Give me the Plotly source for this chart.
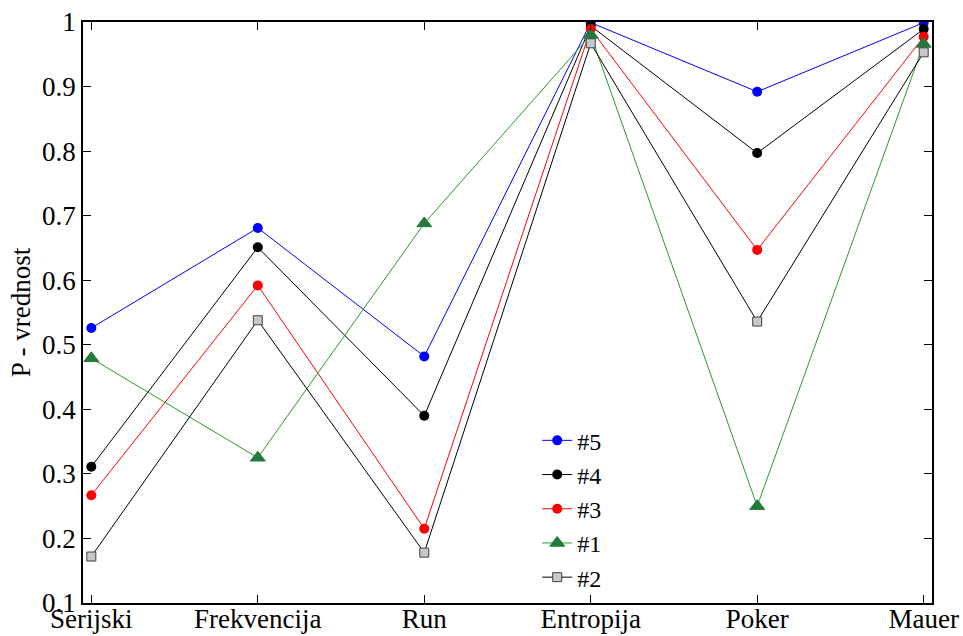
import plotly.graph_objects as go

categories = ["Serijski", "Frekvencija", "Run", "Entropija", "Poker", "Mauer"]
x_pos = [1, 2, 3, 4, 5, 6]

p_5 = [0.526, 0.681, 0.482, 0.999, 0.892, 0.999]
p_4 = [0.311, 0.651, 0.390, 0.994, 0.797, 0.989]
p_3 = [0.267, 0.592, 0.215, 0.989, 0.647, 0.977]
p_1 = [0.479, 0.325, 0.688, 0.980, 0.250, 0.966]
p_2 = [0.172, 0.538, 0.178, 0.967, 0.536, 0.953]

y_ticks = [0.1, 0.2, 0.3, 0.4, 0.5, 0.6, 0.7, 0.8, 0.9, 1.0]
y_tick_text = ["0.1", "0.2", "0.3", "0.4", "0.5", "0.6", "0.7", "0.8", "0.9", "1"]

FONT = "Liberation Serif"

series = [
    ("#5", p_5, "#0000ff", dict(symbol="circle", size=10, color="#0000ff")),
    ("#4", p_4, "#000000", dict(symbol="circle", size=10, color="#000000")),
    ("#3", p_3, "#ff0000", dict(symbol="circle", size=10, color="#ff0000")),
    ("#1", p_1, "#2a9a2a", dict(symbol="triangle-up", size=13, color="#237a3c",
                                line=dict(color="#237a3c", width=1))),
    ("#2", p_2, "#000000", dict(symbol="square", size=9, color="#c8c8c8",
                                line=dict(color="#404040", width=1))),
]

fig = go.Figure()
for name, vals, lcolor, marker in series:
    fig.add_trace(go.Scatter(
        x=x_pos, y=vals, name=name, mode="lines+markers",
        line=dict(color=lcolor, width=1),
        marker=marker,
    ))

axis_common = dict(
    showgrid=False, zeroline=False, automargin=False,
    showline=True, linecolor="black", linewidth=1.5,
    mirror="allticks", ticks="inside", ticklen=8, tickcolor="black",
    tickfont=dict(family=FONT, size=27, color="black"),
)

fig.update_xaxes(
    range=[0.95, 6.05], tickvals=x_pos, ticktext=categories,
    ticklabelstandoff=-9, **axis_common
)
fig.update_yaxes(
    range=[0.1, 1.0], tickvals=y_ticks, ticktext=y_tick_text,
    title=dict(text="P - vrednost", font=dict(family=FONT, size=27, color="black"),
               standoff=4),
    **axis_common
)

fig.update_layout(
    width=963, height=636,
    margin=dict(l=83, r=31, t=22, b=33),
    paper_bgcolor="white", plot_bgcolor="white",
    font=dict(family=FONT, size=27, color="black"),
    legend=dict(
        x=0.535, y=0.318, xanchor="left", yanchor="top",
        bgcolor="rgba(0,0,0,0)", borderwidth=0, tracegroupgap=0,
        font=dict(family=FONT, size=24, color="black"),
    ),
)

fig.write_html("out.html")
